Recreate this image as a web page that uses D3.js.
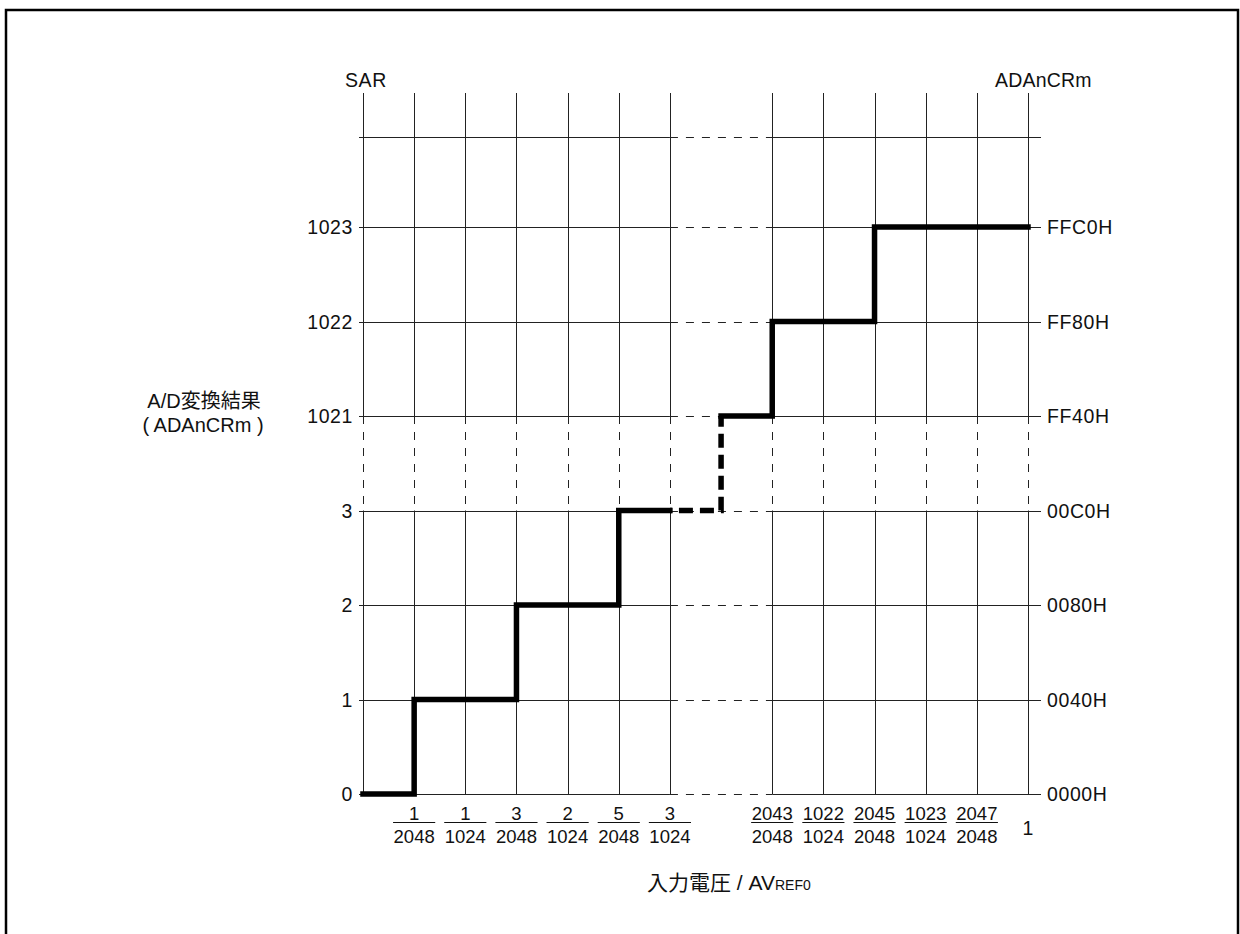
<!DOCTYPE html>
<html><head><meta charset="utf-8">
<script src="https://cdn.jsdelivr.net/npm/d3@7"></script>
<style>
html,body{margin:0;padding:0;background:#fff;}
text{font-family:"Liberation Sans",Arial,"Noto Sans CJK JP",sans-serif;fill:#111;}
</style></head>
<body><svg id="c" width="1240" height="934"></svg>
<script>
// ---- data ----
const sarLabels = ["0","1","2","3","1021","1022","1023"];
const regLabels = ["0000H","0040H","0080H","00C0H","FF40H","FF80H","FFC0H"];
const gridColumns = [0,1,2,3,4,5,6,8,9,10,11,12,13];
const xTickPos = [1,2,3,4,5,6,8,9,10,11,12,13];
const xTickNum = ["1","1","3","2","5","3","2043","1022","2045","1023","2047",""];
const xTickDen = ["2048","1024","2048","1024","2048","1024","2048","1024","2048","1024","2048",""];
const xTickPlain = ["","","","","","","","","","","","1"];
// step transfer curve: [input step index, output code index]
const lowSteps  = [[0,0],[1,1],[3,2],[5,3],[6,3]];
const gapSteps  = [[6,3],[7,4]];
const highSteps = [[7,4],[8,5],[10,6],[13,6]];

const svg = d3.select("#c");
const x = d3.scaleLinear().domain([0,13]).range([363,1028]);
const y = d3.scaleLinear().domain([0,6]).range([794,227]);
const topLine = y(6) - 90, colTop = 93, hLeft = 359, hRight = 1041;
const thin = "#222", dash = "8,8";

// frame
svg.append("rect").attr("x",6).attr("y",10).attr("width",1232).attr("height",940)
  .attr("fill","none").attr("stroke","#000").attr("stroke-width",2.5);

const g = svg.append("g");
gridColumns.forEach(c=>{
  const xp = Math.round(x(c))+0.5;
  g.append("line").attr("x1",xp).attr("x2",xp).attr("y1",colTop).attr("y2",y(4)).attr("stroke",thin);
  g.append("line").attr("x1",xp).attr("x2",xp).attr("y1",y(4)).attr("y2",y(3)).attr("stroke",thin).attr("stroke-dasharray",dash);
  g.append("line").attr("x1",xp).attr("x2",xp).attr("y1",y(3)).attr("y2",y(0)).attr("stroke",thin);
});
const levels = d3.range(0,7).map(v=>y(v)).concat([topLine]);
levels.forEach(yy=>{
  const yp = Math.round(yy)+0.5;
  g.append("line").attr("x1",hLeft).attr("x2",x(6)).attr("y1",yp).attr("y2",yp).attr("stroke",thin);
  g.append("line").attr("x1",x(6)).attr("x2",x(8)).attr("y1",yp).attr("y2",yp).attr("stroke",thin).attr("stroke-dasharray",dash);
  g.append("line").attr("x1",x(8)).attr("x2",hRight).attr("y1",yp).attr("y2",yp).attr("stroke",thin);
});

const line = d3.line().x(d=>x(d[0])).y(d=>y(d[1])).curve(d3.curveStepAfter);
[lowSteps, highSteps].forEach(s=>{
  svg.append("path").attr("d",line(s)).attr("fill","none").attr("stroke","#000")
    .attr("stroke-width",5.5).attr("stroke-linejoin","miter").attr("stroke-linecap","square");
});
svg.append("path").attr("d",line(gapSteps)).attr("fill","none").attr("stroke","#000")
  .attr("stroke-width",5.5).attr("stroke-dasharray","14,7").attr("stroke-dashoffset",-9);

const fs = 19.5, ls = 0.6, ffs = 18.5;
sarLabels.forEach((t,i)=>{
  svg.append("text").attr("x",353).attr("y",y(i)+7).attr("text-anchor","end").attr("font-size",fs).attr("letter-spacing",ls).text(t);
});
regLabels.forEach((t,i)=>{
  svg.append("text").attr("x",1047).attr("y",y(i)+7).attr("text-anchor","start").attr("font-size",fs).attr("letter-spacing",ls).text(t);
});
svg.append("text").attr("x",345).attr("y",87).attr("font-size",fs).attr("letter-spacing",ls).text("SAR");
svg.append("text").attr("x",995).attr("y",87).attr("font-size",fs).attr("letter-spacing",0.2).text("ADAnCRm");
svg.append("text").attr("x",204).attr("y",408).attr("text-anchor","middle").attr("font-size",20).text("A/D変換結果");
svg.append("text").attr("x",203).attr("y",432).attr("text-anchor","middle").attr("font-size",20).text("( ADAnCRm )");

xTickPos.forEach((p,i)=>{
  const cx = x(p);
  if (xTickPlain[i]) {
    svg.append("text").attr("x",cx).attr("y",835).attr("text-anchor","middle").attr("font-size",fs).text(xTickPlain[i]);
    return;
  }
  const n = svg.append("text").attr("x",cx).attr("y",820).attr("text-anchor","middle").attr("font-size",ffs).text(xTickNum[i]);
  const d = svg.append("text").attr("x",cx).attr("y",843).attr("text-anchor","middle").attr("font-size",ffs).text(xTickDen[i]);
  const w = Math.max(n.node().getComputedTextLength(), d.node().getComputedTextLength()) + 1;
  svg.append("line").attr("x1",cx-w/2).attr("x2",cx+w/2).attr("y1",822.5).attr("y2",822.5).attr("stroke","#111").attr("stroke-width",1);
});

const t = svg.append("text").attr("x",647).attr("y",890).attr("font-size",21);
t.append("tspan").text("入力電圧 / AV");
t.append("tspan").attr("font-size",14).text("REF0");
</script></body></html>
